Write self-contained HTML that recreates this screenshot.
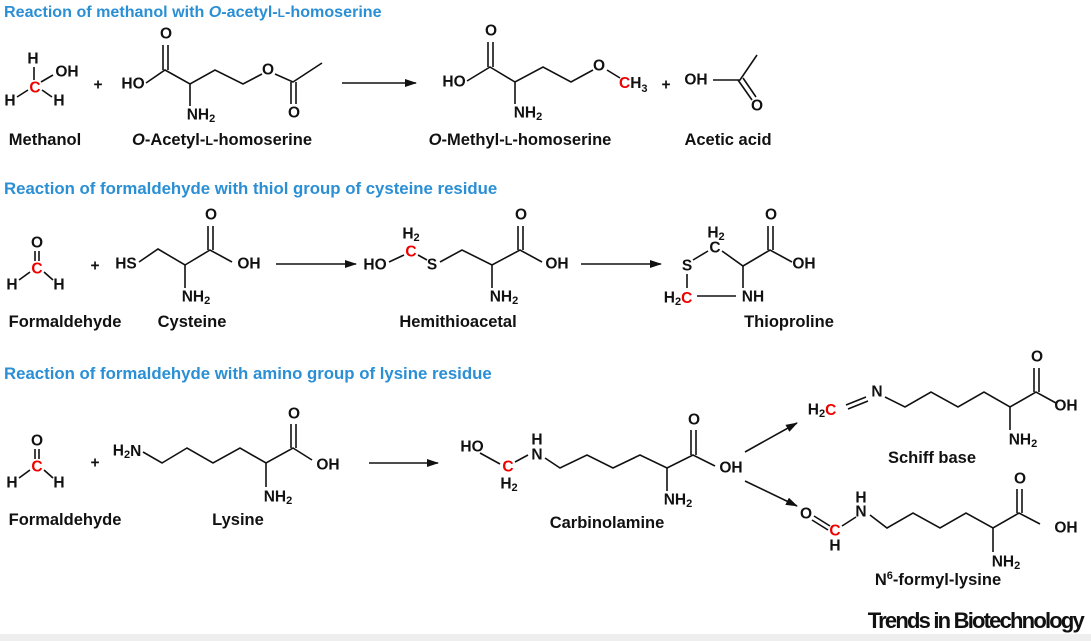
<!DOCTYPE html>
<html><head><meta charset="utf-8"><style>
body{margin:0;background:#fff}
svg{display:block}
text{font-family:"Liberation Sans",Arial,sans-serif;font-weight:bold;font-size:15.5px;fill:#111}
.t{fill:#2a8fd4;font-size:16.8px}
.r{fill:#e00}
.a{text-anchor:middle;dominant-baseline:central}
.l{text-anchor:middle;font-size:16.5px}
line,polyline{stroke:#111;stroke-width:1.6;fill:none}
</style></head><body>
<svg width="1091" height="641" viewBox="0 0 1091 641" xmlns="http://www.w3.org/2000/svg">
<defs><marker id="ah" markerWidth="12" markerHeight="8" refX="11" refY="4" orient="auto" markerUnits="userSpaceOnUse"><path d="M0,0 L12,4 L0,8 Z" fill="#111"/></marker></defs>
<rect x="0" y="634" width="1091" height="7" fill="#eee"/>

<!-- Row 1 -->
<text class="t" x="4" y="17" style="font-size:16.1px">Reaction of methanol with <tspan font-style="italic">O</tspan>-acetyl-<tspan font-size="12">L</tspan>-homoserine</text>
<text class="a" x="33" y="59">H</text>
<text class="a r" x="35" y="88">C</text>
<text class="a" x="67" y="72">OH</text>
<text class="a" x="10" y="101">H</text>
<text class="a" x="59" y="101">H</text>
<line x1="34" y1="67" x2="34" y2="80"/><line x1="41" y1="82" x2="53" y2="75"/>
<line x1="28" y1="90" x2="17" y2="97"/><line x1="42" y1="90" x2="52" y2="97"/>
<text class="a" x="98" y="85">+</text>
<text class="a" x="133" y="84">HO</text>
<polyline points="146,83 165,70 190,84 215,70 243,84 262,74"/>
<line x1="163" y1="70" x2="163" y2="45"/><line x1="168" y1="70" x2="168" y2="45"/>
<text class="a" x="166" y="34">O</text>
<line x1="190" y1="84" x2="190" y2="106"/>
<text class="a" x="201" y="115">NH<tspan font-size="11" dy="4">2</tspan></text>
<text class="a" x="268" y="70">O</text>
<polyline points="275,74 293,82 322,63"/>
<line x1="291" y1="82" x2="291" y2="104"/><line x1="296" y1="82" x2="296" y2="104"/>
<text class="a" x="294" y="113">O</text>
<text x="45" y="145" class="l">Methanol</text>
<text x="222" y="145" class="l"><tspan font-style="italic">O</tspan>-Acetyl-<tspan font-size="12.5">L</tspan>-homoserine</text>
<line x1="342" y1="83" x2="416" y2="83" marker-end="url(#ah)"/>
<text class="a" x="454" y="82">HO</text>
<polyline points="467,81 490,67 515,82 543,67 571,82 593,70"/>
<line x1="488" y1="67" x2="488" y2="42"/><line x1="493" y1="67" x2="493" y2="42"/>
<text class="a" x="491" y="31">O</text>
<line x1="515" y1="82" x2="515" y2="104"/>
<text class="a" x="528" y="113">NH<tspan font-size="11" dy="4">2</tspan></text>
<text class="a" x="599" y="66">O</text>
<line x1="607" y1="70" x2="620" y2="78"/>
<text x="619" y="88"><tspan class="r">C</tspan>H<tspan font-size="11" dy="4">3</tspan></text>
<text class="a" x="666" y="85">+</text>
<text class="a" x="696" y="80">OH</text>
<polyline points="713,80 740,80 757,55"/>
<line x1="738" y1="80" x2="752" y2="100"/><line x1="743" y1="78" x2="756" y2="97"/>
<text class="a" x="757" y="106">O</text>
<text x="520" y="145" class="l"><tspan font-style="italic">O</tspan>-Methyl-<tspan font-size="12.5">L</tspan>-homoserine</text>
<text x="728" y="145" class="l">Acetic acid</text>

<!-- Row 2 -->
<text class="t" x="4" y="194">Reaction of formaldehyde with thiol group of cysteine residue</text>
<text class="a" x="37" y="243">O</text>
<line x1="35" y1="251" x2="35" y2="261"/><line x1="39" y1="251" x2="39" y2="261"/>
<text class="a r" x="37" y="269">C</text>
<text class="a" x="12" y="285">H</text><text class="a" x="59" y="285">H</text>
<line x1="30" y1="272" x2="19" y2="280"/><line x1="44" y1="272" x2="53" y2="280"/>
<text class="a" x="95" y="266">+</text>
<text class="a" x="126" y="264">HS</text>
<polyline points="139,262 158,249 185,265 210,250 232,262"/>
<line x1="208" y1="250" x2="208" y2="226"/><line x1="213" y1="250" x2="213" y2="226"/>
<text class="a" x="211" y="215">O</text>
<text class="a" x="249" y="264">OH</text>
<line x1="185" y1="265" x2="185" y2="288"/>
<text class="a" x="196" y="297">NH<tspan font-size="11" dy="4">2</tspan></text>
<text x="65" y="327" class="l">Formaldehyde</text>
<text x="192" y="327" class="l">Cysteine</text>
<line x1="276" y1="264" x2="356" y2="264" marker-end="url(#ah)"/>
<text class="a" x="375" y="265">HO</text>
<text class="a" x="411" y="234">H<tspan font-size="11" dy="4">2</tspan></text>
<text class="a r" x="411" y="252">C</text>
<text class="a" x="432" y="265">S</text>
<line x1="389" y1="262" x2="404" y2="255"/><line x1="418" y1="255" x2="427" y2="260"/>
<polyline points="440,262 462,250 492,265 520,250 542,262"/>
<line x1="518" y1="250" x2="518" y2="226"/><line x1="523" y1="250" x2="523" y2="226"/>
<text class="a" x="521" y="215">O</text>
<text class="a" x="557" y="264">OH</text>
<line x1="492" y1="265" x2="492" y2="288"/>
<text class="a" x="504" y="297">NH<tspan font-size="11" dy="4">2</tspan></text>
<text x="458" y="327" class="l">Hemithioacetal</text>
<line x1="581" y1="264" x2="661" y2="264" marker-end="url(#ah)"/>
<text class="a" x="687" y="266">S</text>
<text class="a" x="716" y="233">H<tspan font-size="11" dy="4">2</tspan></text>
<text class="a" x="715" y="248">C</text>
<line x1="693" y1="260" x2="708" y2="251"/>
<polyline points="722,251 743,266 770,250 792,262"/>
<line x1="768" y1="250" x2="768" y2="226"/><line x1="773" y1="250" x2="773" y2="226"/>
<text class="a" x="771" y="215">O</text>
<text class="a" x="804" y="264">OH</text>
<line x1="743" y1="266" x2="743" y2="288"/>
<text class="a" x="753" y="297">NH</text>
<line x1="687" y1="274" x2="687" y2="288"/>
<text class="a" x="678" y="298">H<tspan font-size="11" dy="4">2</tspan><tspan class="r" dy="-4">C</tspan></text>
<line x1="697" y1="296" x2="736" y2="296"/>
<text x="789" y="327" class="l">Thioproline</text>

<!-- Row 3 -->
<text class="t" x="4" y="379">Reaction of formaldehyde with amino group of lysine residue</text>
<text class="a" x="37" y="441">O</text>
<line x1="35" y1="449" x2="35" y2="459"/><line x1="39" y1="449" x2="39" y2="459"/>
<text class="a r" x="37" y="467">C</text>
<text class="a" x="12" y="483">H</text><text class="a" x="59" y="483">H</text>
<line x1="30" y1="470" x2="19" y2="478"/><line x1="44" y1="470" x2="53" y2="478"/>
<text class="a" x="95" y="463">+</text>
<text class="a" x="127" y="451">H<tspan font-size="11" dy="4">2</tspan><tspan dy="-4">N</tspan></text>
<polyline points="143,452 162,463 187,448 213,463 240,448 266,463 293,448 312,460"/>
<line x1="291" y1="448" x2="291" y2="424"/><line x1="296" y1="448" x2="296" y2="424"/>
<text class="a" x="294" y="414">O</text>
<text class="a" x="328" y="465">OH</text>
<line x1="266" y1="463" x2="266" y2="487"/>
<text class="a" x="278" y="497">NH<tspan font-size="11" dy="4">2</tspan></text>
<text x="65" y="525" class="l">Formaldehyde</text>
<text x="238" y="525" class="l">Lysine</text>
<line x1="369" y1="463" x2="438" y2="463" marker-end="url(#ah)"/>
<text class="a" x="472" y="447">HO</text>
<line x1="480" y1="453" x2="500" y2="464"/>
<text class="a r" x="508" y="467">C</text>
<text class="a" x="509" y="484">H<tspan font-size="11" dy="4">2</tspan></text>
<line x1="515" y1="462" x2="528" y2="455"/>
<text class="a" x="537" y="440">H</text>
<text class="a" x="537" y="455">N</text>
<polyline points="545,458 560,468 587,455 613,468 640,455 667,468 693,455 715,466"/>
<line x1="691" y1="455" x2="691" y2="430"/><line x1="696" y1="455" x2="696" y2="430"/>
<text class="a" x="694" y="420">O</text>
<text class="a" x="731" y="468">OH</text>
<line x1="667" y1="468" x2="667" y2="491"/>
<text class="a" x="678" y="500">NH<tspan font-size="11" dy="4">2</tspan></text>
<text x="607" y="528" class="l">Carbinolamine</text>
<line x1="745" y1="452" x2="797" y2="423" marker-end="url(#ah)"/>
<line x1="745" y1="481" x2="797" y2="506" marker-end="url(#ah)"/>
<text class="a" x="822" y="410">H<tspan font-size="11" dy="4">2</tspan><tspan class="r" dy="-4">C</tspan></text>
<line x1="846" y1="405" x2="866" y2="397"/><line x1="848" y1="409" x2="868" y2="401"/>
<text class="a" x="877" y="392">N</text>
<polyline points="885,397 905,407 931,392 958,407 984,392 1010,407 1036,392 1056,403"/>
<line x1="1034" y1="392" x2="1034" y2="368"/><line x1="1039" y1="392" x2="1039" y2="368"/>
<text class="a" x="1037" y="357">O</text>
<text class="a" x="1066" y="406">OH</text>
<line x1="1010" y1="407" x2="1010" y2="430"/>
<text class="a" x="1023" y="440">NH<tspan font-size="11" dy="4">2</tspan></text>
<text x="932" y="463" class="l">Schiff base</text>
<text class="a" x="806" y="514">O</text>
<line x1="814" y1="516" x2="830" y2="526"/><line x1="812" y1="520" x2="828" y2="530"/>
<text class="a r" x="835" y="531">C</text>
<text class="a" x="835" y="546">H</text>
<line x1="842" y1="526" x2="856" y2="517"/>
<text class="a" x="861" y="498">H</text>
<text class="a" x="861" y="512">N</text>
<polyline points="870,515 887,528 913,513 940,528 966,513 993,528 1019,513 1040,524"/>
<line x1="1017" y1="513" x2="1017" y2="489"/><line x1="1022" y1="513" x2="1022" y2="489"/>
<text class="a" x="1020" y="479">O</text>
<text class="a" x="1066" y="528">OH</text>
<line x1="993" y1="528" x2="993" y2="552"/>
<text class="a" x="1006" y="562">NH<tspan font-size="11" dy="4">2</tspan></text>
<text x="938" y="585" class="l">N<tspan font-size="11" dy="-6">6</tspan><tspan dy="6">-formyl-lysine</tspan></text>
<text x="1083" y="628" text-anchor="end" style="font-size:22px;letter-spacing:-1.8px">Trends in Biotechnology</text>
</svg>
</body></html>
